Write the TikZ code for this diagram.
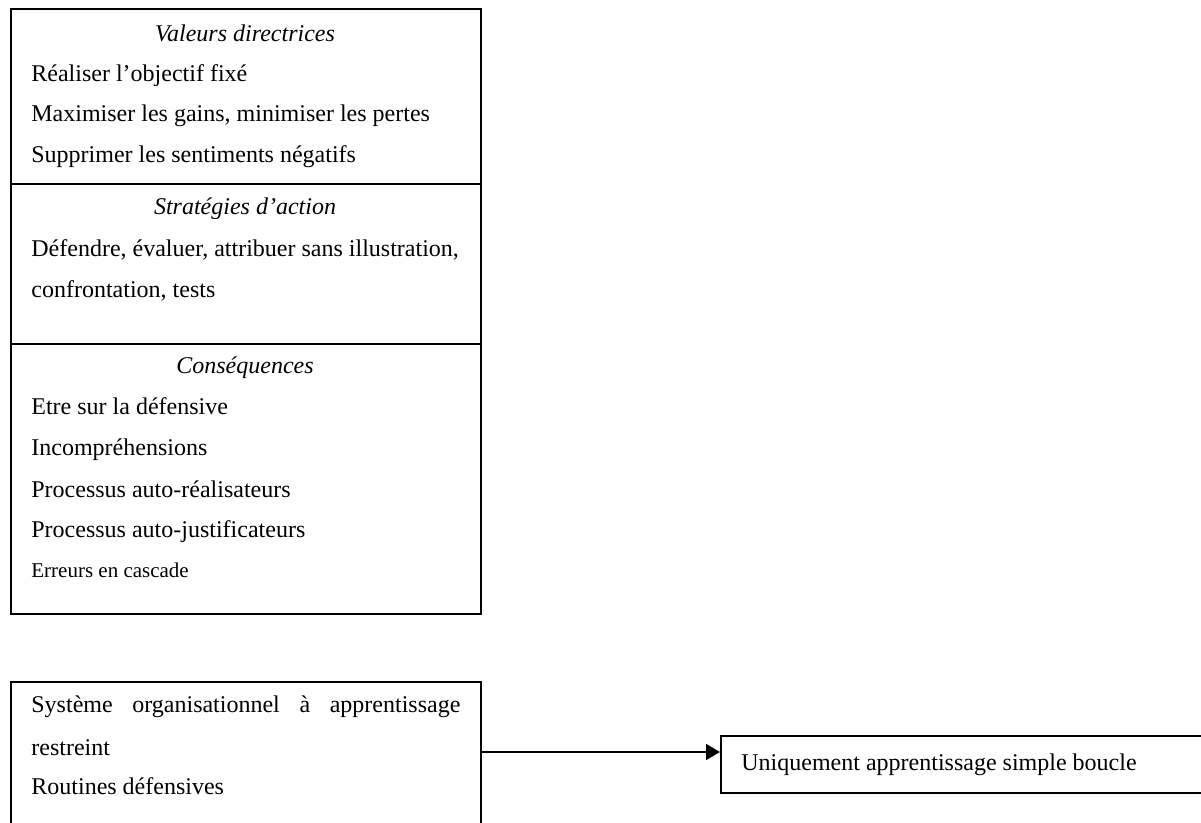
\documentclass[tikz,border=0pt]{standalone}
\usepackage{fontspec}
\setmainfont{Liberation Serif}
\usetikzlibrary{arrows.meta}
\tikzset{
  cadre/.style={draw, line width=1pt, anchor=north west, inner sep=0pt, minimum width=235pt},
  ligne/.style={anchor=base west, inner sep=0pt, font=\fontsize{12}{14}\selectfont},
  titre/.style={anchor=base, inner sep=0pt, font=\fontsize{12}{14}\selectfont\itshape},
  fleche/.style={line width=1pt, -{Triangle[length=7pt,width=8pt]}}
}
\begin{document}
\begin{tikzpicture}[x=0.5pt,y=-0.5pt]
  \useasboundingbox (0,0) rectangle (1201,823);
  \node[cadre, minimum height=87.5pt] (valeurs) at (10,8) {};
  \node[cadre, minimum height=80pt] (strategies) at (10,183) {};
  \node[cadre, minimum height=135pt] (consequences) at (10,343) {};
  \node[cadre, minimum height=80pt] (systeme) at (10,681) {};
  \node[cadre, minimum width=260pt, minimum height=28.5pt] (simple) at (720,735) {};
  \node[titre] (titrevaleurs) at (245,42) {Valeurs directrices};
  \node[ligne] (valeurs1) at (31,82) {Réaliser l’objectif fixé};
  \node[ligne] (valeurs2) at (31,122) {Maximiser les gains, minimiser les pertes};
  \node[ligne] (valeurs3) at (31,163) {Supprimer les sentiments négatifs};
  \node[titre] (titrestrategies) at (245,215) {Stratégies d’action};
  \node[ligne] (strategies1) at (31,257) {Défendre, évaluer, attribuer sans illustration,};
  \node[ligne] (strategies2) at (31,298) {confrontation, tests};
  \node[titre] (titreconsequences) at (245,374) {Conséquences};
  \node[ligne] (consequences1) at (31,415) {Etre sur la défensive};
  \node[ligne] (consequences2) at (31,456) {Incompréhensions};
  \node[ligne] (consequences3) at (31,498) {Processus auto-réalisateurs};
  \node[ligne] (consequences4) at (31,538) {Processus auto-justificateurs};
  \node[ligne, font=\fontsize{10.5}{12}\selectfont] (consequences5) at (31,578) {Erreurs en cascade};
  \node[ligne] (systeme1) at (31,713) {\makebox[214.5pt][s]{Système organisationnel à apprentissage}};
  \node[ligne] (systeme2) at (31,755) {restreint};
  \node[ligne] (systeme3) at (31,795) {Routines défensives};
  \node[ligne] (simple1) at (741,770) {Uniquement apprentissage simple boucle};
  \coordinate (depart) at (480,752);
  \draw[fleche] (depart) -- (depart -| simple.west);
\end{tikzpicture}
\end{document}
